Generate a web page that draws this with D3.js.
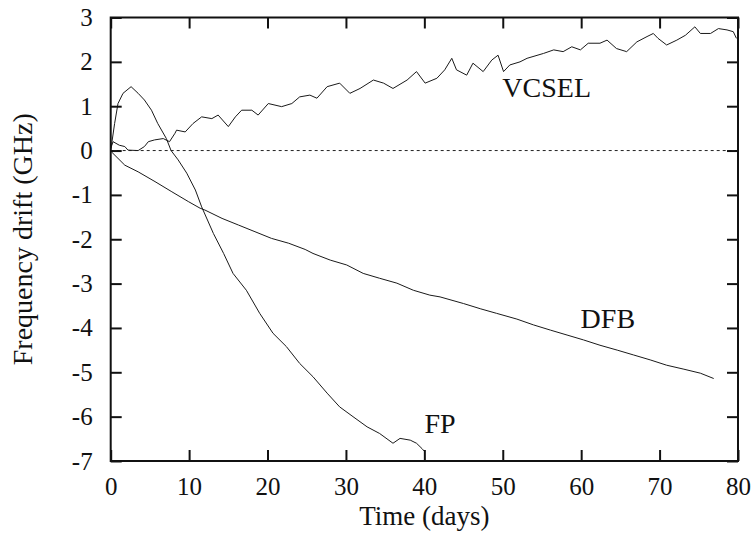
<!DOCTYPE html>
<html>
<head>
<meta charset="utf-8">
<script src="https://cdn.jsdelivr.net/npm/d3@7"></script>
<style>
  body { margin: 0; background: #fff; }
  svg text { font-family: "Liberation Serif", "Times New Roman", serif; fill: #111; }
</style>
</head>
<body>
<svg id="chart" width="751" height="533"></svg>
<script>
(function () {

  // readings: [day, GHz]
  var vcsel = [
    [0, 0.05], [0.3, 0.2], [1.1, 0.12], [1.8, 0.09], [2.2, 0.01], [3.5, 0.0], [4.3, 0.09],
    [4.8, 0.2], [5.6, 0.24], [6.7, 0.27], [7.5, 0.2], [8.2, 0.39], [8.4, 0.46], [9.5, 0.42],
    [10.5, 0.61], [11.6, 0.76], [12.9, 0.72], [13.7, 0.8], [15.0, 0.54], [15.9, 0.76],
    [16.7, 0.91], [18.0, 0.91], [18.8, 0.8], [20.1, 1.06], [21.8, 0.99], [23.1, 1.06],
    [24.1, 1.21], [25.4, 1.25], [26.3, 1.18], [27.6, 1.44], [29.2, 1.52], [30.5, 1.29],
    [31.8, 1.40], [33.5, 1.59], [34.8, 1.52], [36.0, 1.40], [37.8, 1.59], [39.0, 1.78],
    [40.1, 1.52], [41.6, 1.63], [42.6, 1.82], [43.5, 2.08], [44.1, 1.82], [45.4, 1.70],
    [46.2, 1.97], [47.5, 1.78], [48.6, 2.04], [49.4, 2.15], [50.1, 1.78], [50.9, 1.93],
    [52.2, 2.0], [53.1, 2.08], [55.2, 2.19], [56.5, 2.27], [57.7, 2.23], [58.8, 2.34],
    [59.9, 2.27], [60.9, 2.42], [62.4, 2.42], [63.3, 2.49], [64.5, 2.30], [65.8, 2.23],
    [67.1, 2.45], [68.4, 2.57], [69.2, 2.64], [69.8, 2.53], [70.9, 2.38], [72.2, 2.49],
    [73.3, 2.60], [74.5, 2.79], [75.2, 2.64], [76.5, 2.64], [77.5, 2.75], [78.6, 2.72],
    [79.4, 2.68], [79.8, 2.53]
  ]

  var dfb = [
    [0, 0.0], [0.1, -0.03], [1.8, -0.33], [3.5, -0.48], [5.65, -0.70], [7.8, -0.93],
    [9.9, -1.15], [11.4, -1.30], [12.0, -1.34], [14.2, -1.53], [16.3, -1.68], [18.4, -1.83],
    [20.5, -1.98], [22.7, -2.09], [24.8, -2.23], [25.8, -2.32], [28.0, -2.47], [30.1, -2.58],
    [32.2, -2.77], [34.3, -2.88], [36.5, -2.99], [38.6, -3.15], [40.7, -3.26], [42.0, -3.30],
    [45.0, -3.45], [47.2, -3.57], [49.2, -3.67], [51.8, -3.80], [53.9, -3.93], [56.1, -4.05],
    [58.2, -4.16], [60.3, -4.27], [62.4, -4.39], [64.6, -4.50], [66.7, -4.61], [68.8, -4.72],
    [70.9, -4.84], [73.1, -4.93], [75.2, -5.02], [76.9, -5.14]
  ]

  var fp = [
    [0, 0.0], [0.5, 0.61], [0.93, 1.06], [1.57, 1.29], [2.6, 1.44], [3.5, 1.29],
    [4.3, 1.14], [5.2, 0.91], [6.0, 0.61], [7.1, 0.27], [7.7, 0.0], [8.6, -0.21],
    [9.7, -0.51], [10.8, -0.89], [11.6, -1.27], [13.1, -1.87], [14.4, -2.32],
    [15.6, -2.77], [17.3, -3.15], [19.0, -3.67], [20.7, -4.12], [22.4, -4.42],
    [24.1, -4.80], [25.8, -5.10], [27.6, -5.47], [29.2, -5.78], [30.9, -6.00],
    [32.7, -6.23], [34.3, -6.38], [36.0, -6.60], [36.9, -6.49], [38.2, -6.53],
    [39.0, -6.60], [39.7, -6.72], [40.0, -6.78]
  ]

  var xTicks = [0, 10, 20, 30, 40, 50, 60, 70, 80]
  var yTicks = [3, 2, 1, 0, -1, -2, -3, -4, -5, -6, -7]

  var labels = [
    { text: 'VCSEL', x: 55.6, y: 1.21 },
    { text: 'DFB', x: 63.4, y: -4.0 },
    { text: 'FP', x: 42, y: -6.37 }
  ]

  var svg = d3.select('#chart')
  var margin = { top: 17.5, right: 13, bottom: 72, left: 110.7 }
  var width = 751 - margin.left - margin.right
  var height = 533 - margin.top - margin.bottom

  var g = svg.append('g').attr('transform', 'translate(' + margin.left + ',' + margin.top + ')')

  var xScale = d3.scaleLinear().domain([0, 80]).range([0, width])
  var yScale = d3.scaleLinear().domain([-7, 3]).range([height, 0])

  // zero line
  g.append('line')
    .attr('x1', xScale(0)).attr('x2', xScale(80))
    .attr('y1', yScale(0)).attr('y2', yScale(0))
    .attr('stroke', '#222').attr('stroke-width', 1)
    .attr('stroke-dasharray', '3,3')

  var line = d3.line()
    .x(d => xScale(d[0]))
    .y(d => yScale(d[1]))

  g.selectAll('path.series')
    .data([vcsel, dfb, fp])
    .enter().append('path')
    .attr('class', 'series')
    .attr('d', line)
    .attr('fill', 'none')
    .attr('stroke', '#1a1a1a')
    .attr('stroke-width', 1)
    .attr('stroke-linejoin', 'round')

  // plain hyphen for negatives, like the original
  var plain = d => String(d)

  // axes, ticks pointing inward on all four sides
  var bottom = g.append('g').attr('transform', 'translate(0,' + height + ')')
    .call(d3.axisBottom(xScale).tickValues(xTicks).tickFormat(plain).tickSize(-11).tickPadding(16).tickSizeOuter(0))
  var left = g.append('g')
    .call(d3.axisLeft(yScale).tickValues(yTicks).tickFormat(plain).tickSize(-11).tickPadding(18).tickSizeOuter(0))
  var top = g.append('g')
    .call(d3.axisTop(xScale).tickValues(xTicks).tickSize(-11).tickFormat('').tickSizeOuter(0))
  var right = g.append('g').attr('transform', 'translate(' + width + ',0)')
    .call(d3.axisRight(yScale).tickValues(yTicks).tickSize(-11).tickFormat('').tickSizeOuter(0))

  ;[bottom, left, top, right].forEach(function (a) {
    a.select('.domain').remove()
    a.selectAll('line').attr('stroke', '#111').attr('stroke-width', 2)
    a.selectAll('text').attr('font-size', 25).attr('fill', '#111')
      .style('font-family', '"Liberation Serif", serif')
  })

  g.append('rect')
    .attr('width', width).attr('height', height)
    .attr('fill', 'none').attr('stroke', '#111').attr('stroke-width', 2)

  g.selectAll('text.lbl')
    .data(labels)
    .enter().append('text')
    .attr('class', 'lbl')
    .attr('x', d => xScale(d.x))
    .attr('y', d => yScale(d.y))
    .attr('text-anchor', 'middle')
    .attr('font-size', 28)
    .text(d => d.text)

  svg.append('text')
    .attr('x', margin.left + width / 2)
    .attr('y', 525)
    .attr('text-anchor', 'middle')
    .attr('font-size', 27)
    .text('Time (days)')

  svg.append('text')
    .attr('transform', 'translate(32,' + (margin.top + height / 2) + ') rotate(-90)')
    .attr('text-anchor', 'middle')
    .attr('font-size', 28)
    .text('Frequency drift (GHz)')

})()
</script>
</body>
</html>
